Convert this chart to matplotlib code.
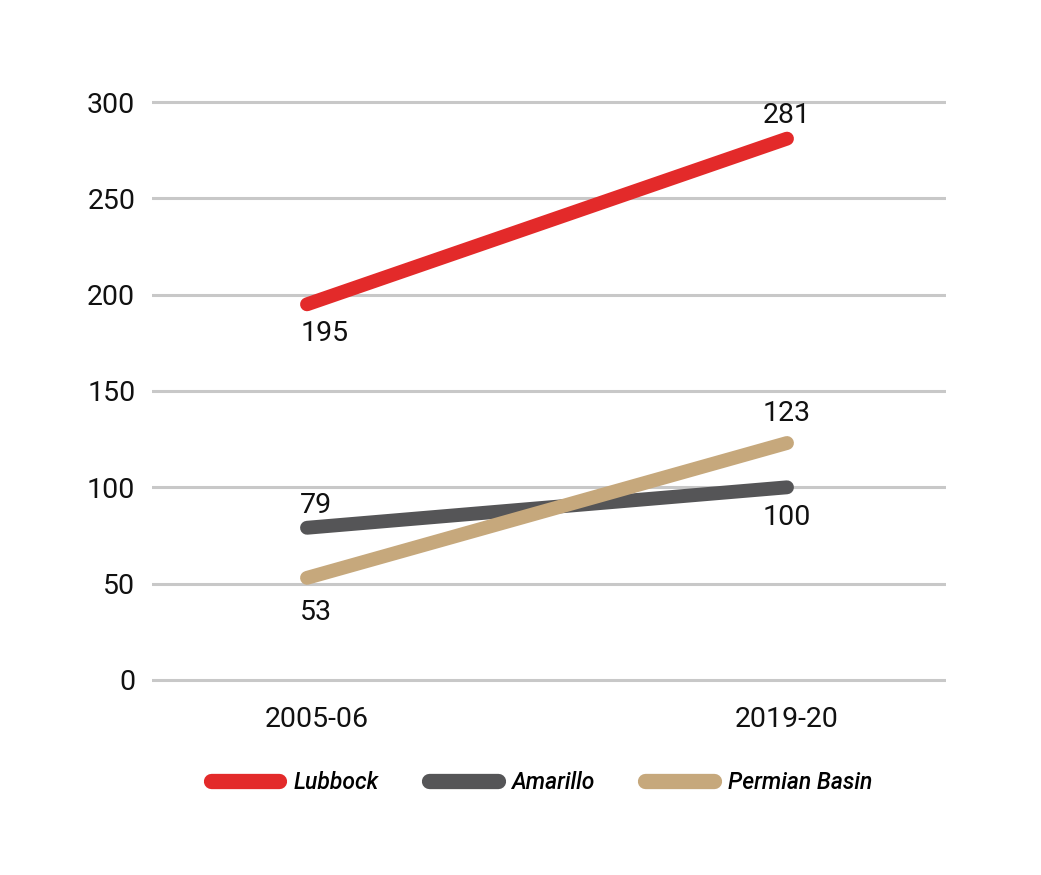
import matplotlib.pyplot as plt
import matplotlib.transforms as mtransforms
from matplotlib.lines import Line2D

plt.rcParams['font.family'] = ['Roboto', 'DejaVu Sans']

periods = ['2005-06', '2019-20']
lubbock = [195, 281]
amarillo = [79, 100]
permian = [53, 123]
series_names = ['Lubbock', 'Amarillo', 'Permian Basin']
y_ticks = [0, 50, 100, 150, 200, 250, 300]

colors = ['#e32a2a', '#555557', '#c6a87c']


def main():
    fig = plt.figure(figsize=(10.41, 8.75), dpi=100)
    ax = fig.add_axes([0.146, 0.2119, 0.7626, 0.6825])

    xs = [0, 1]
    for i, yv in enumerate([lubbock, amarillo, permian]):
        ax.plot(xs, yv, color=colors[i], linewidth=10, solid_capstyle='round', zorder=3)

    # value labels: left ones left-aligned, right ones centered
    label_offsets = [(-5, -21), (-5, 16), (-5, -25)]
    right_offsets = [(0, 17), (0, -22), (0, 21)]
    for i, yv in enumerate([lubbock, amarillo, permian]):
        dx, dy = label_offsets[i]
        ax.annotate(str(yv[0]), (xs[0], yv[0]), xytext=(dx, dy), textcoords='offset points',
                    ha='left', va='center', fontsize=20.5, color='#111111')
        dx, dy = right_offsets[i]
        ax.annotate(str(yv[1]), (xs[1], yv[1]), xytext=(dx, dy), textcoords='offset points',
                    ha='center', va='center', fontsize=20.5, color='#111111')

    ax.set_xlim(-0.323, 1.331)
    ax.set_ylim(-5, 305)
    ax.set_yticks(y_ticks)
    ax.set_xticks(xs)
    ax.set_xticklabels(periods)
    for y in y_ticks:
        ax.axhline(y, color='#c8c8c8', linewidth=2.2, zorder=1)

    for s in ax.spines.values():
        s.set_visible(False)
    ax.tick_params(axis='both', length=0, labelsize=20.5, colors='#111111')
    ax.tick_params(axis='y', pad=12)
    ax.tick_params(axis='x', pad=12)

    # first period label sits a little right of its point
    shift = mtransforms.ScaledTranslation(10 / 100, 0, fig.dpi_scale_trans)
    first = ax.get_xticklabels()[0]
    first.set_transform(first.get_transform() + shift)

    handles = [Line2D([0], [0], color=c, linewidth=11, solid_capstyle='round') for c in colors]
    fig.legend(handles, series_names, loc='center', bbox_to_anchor=(0.52, 0.106),
               ncol=3, frameon=False, handlelength=3.0, handletextpad=0.6,
               columnspacing=2.2,
               prop={'family': 'Roboto', 'style': 'italic', 'weight': 'medium', 'size': 16.5})

    plt.savefig('out.png', dpi=100)


if __name__ == '__main__':
    main()
